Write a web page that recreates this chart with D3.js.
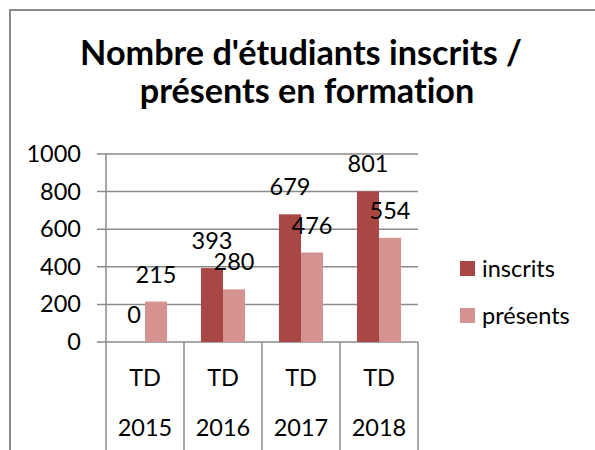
<!DOCTYPE html>
<html>
<head>
<meta charset="utf-8">
<script src="https://cdn.jsdelivr.net/npm/d3@7"></script>
<style>
    body { margin: 0; background: #fff; }
    svg text { font-family: Lato, "Open Sans", sans-serif; fill: #000; font-variant-ligatures: none; }
</style>
</head>
<body>
<div id="chart"></div>
<script>
const years = ["2015", "2016", "2017", "2018"];
const groupLabels = ["TD", "TD", "TD", "TD"];
const seriesNames = ["inscrits", "présents"];
const inscrits = [0, 393, 679, 801];
const presents = [215, 280, 476, 554];
const yTicks = [0, 200, 400, 600, 800, 1000];
const titleLines = ["Nombre d'étudiants inscrits /", "présents en formation"];
const colors = ["#a94745", "#d49391"];

const width = 595;
const height = 450;
const gridColor = "#8a8a8a";
const fs = 23.5;

const svg = d3.select("#chart")
    .append("svg")
    .attr("width", width)
    .attr("height", height);

// cadre du graphique (coupé à droite et en bas)
svg.append("rect")
    .attr("x", 10).attr("y", 10)
    .attr("width", 620).attr("height", 480)
    .attr("fill", "none")
    .attr("stroke", gridColor)
    .attr("stroke-width", 2);

// titre
const title = svg.append("g");
title.selectAll("text")
    .data(titleLines)
    .enter().append("text")
    .attr("x", (d, i) => i === 0 ? 301 : 307)
    .attr("y", (d, i) => 65 + i * 38)
    .attr("text-anchor", "middle")
    .attr("font-weight", "bold")
    .attr("font-size", 30)
    .text(d => d);
// ajuste la taille pour retrouver la largeur de la première ligne
const w0 = title.select("text").node().getComputedTextLength();
title.selectAll("text").attr("font-size", 30 * 442 / w0);

const plot = { left: 106, right: 418, top: 154, bottom: 342 };

const x = d3.scaleBand()
    .domain(years)
    .range([plot.left, plot.right])
    .paddingInner(0);

const xSeries = d3.scaleBand()
    .domain(seriesNames)
    .range([0, x.bandwidth()])
    .paddingInner(0)
    .paddingOuter(0.77);

const y = d3.scaleLinear()
    .domain([0, 1000])
    .range([plot.bottom, plot.top]);

// grille horizontale
svg.append("g")
    .selectAll("line")
    .data(yTicks)
    .enter().append("line")
    .attr("x1", plot.left - 9)
    .attr("x2", plot.right)
    .attr("y1", d => y(d))
    .attr("y2", d => y(d))
    .attr("stroke", gridColor)
    .attr("stroke-width", 1.5);

// axe Y
const yAxis = svg.append("g")
    .attr("transform", `translate(${plot.left},0)`)
    .call(d3.axisLeft(y).tickValues(yTicks).tickFormat(d3.format("d")).tickSize(0).tickPadding(25));
yAxis.select(".domain").remove();
yAxis.selectAll("text")
    .attr("font-size", fs)
    .attr("font-family", "Lato, sans-serif")
    .attr("fill", "#000");

// séparateurs des catégories
const seps = years.map(d => x(d)).concat([plot.right]);
svg.append("g")
    .selectAll("line")
    .data(seps)
    .enter().append("line")
    .attr("x1", d => d).attr("x2", d => d)
    .attr("y1", d => d === plot.left ? plot.top : plot.bottom)
    .attr("y2", height)
    .attr("stroke", gridColor)
    .attr("stroke-width", 1.5);

// barres
const rows = years.map((yr, i) => ({ year: yr, values: [inscrits[i], presents[i]] }));

const groups = svg.append("g")
    .selectAll("g")
    .data(rows)
    .enter().append("g")
    .attr("transform", d => `translate(${x(d.year)},0)`);

groups.selectAll("rect")
    .data(d => d.values.map((v, k) => ({ key: seriesNames[k], value: v, k: k })))
    .enter().append("rect")
    .attr("x", d => xSeries(d.key))
    .attr("width", xSeries.bandwidth())
    .attr("y", d => y(d.value))
    .attr("height", d => y(0) - y(d.value))
    .attr("fill", d => colors[d.k]);

// étiquettes de valeurs
groups.selectAll("text")
    .data(d => d.values.map((v, k) => ({ key: seriesNames[k], value: v })))
    .enter().append("text")
    .attr("x", d => xSeries(d.key) + xSeries.bandwidth() / 2)
    .attr("y", d => y(d.value) - 19)
    .attr("text-anchor", "middle")
    .attr("font-size", fs)
    .text(d => d.value);

// étiquettes de l'axe X (deux niveaux)
svg.append("g")
    .selectAll("text")
    .data(groupLabels)
    .enter().append("text")
    .attr("x", (d, i) => x(years[i]) + x.bandwidth() / 2)
    .attr("y", 378)
    .attr("dy", "0.35em")
    .attr("text-anchor", "middle")
    .attr("font-size", fs)
    .text(d => d);

svg.append("g")
    .selectAll("text")
    .data(years)
    .enter().append("text")
    .attr("x", d => x(d) + x.bandwidth() / 2)
    .attr("y", 428)
    .attr("dy", "0.35em")
    .attr("text-anchor", "middle")
    .attr("font-size", fs)
    .text(d => d);

// légende
const legend = svg.append("g")
    .selectAll("g")
    .data(seriesNames)
    .enter().append("g")
    .attr("transform", (d, i) => `translate(460,${261 + i * 47})`);

legend.append("rect")
    .attr("width", 15)
    .attr("height", 15)
    .attr("fill", (d, i) => colors[i]);

legend.append("text")
    .attr("x", 22)
    .attr("y", 7.5)
    .attr("dy", "0.35em")
    .attr("font-size", fs)
    .text(d => d);
</script>
</body>
</html>
